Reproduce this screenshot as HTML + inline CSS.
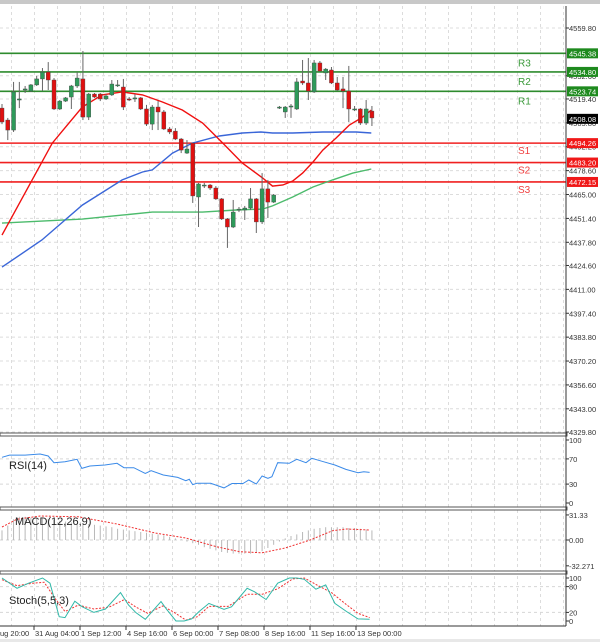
<!DOCTYPE html>
<html><head><meta charset="utf-8"><style>
html,body{margin:0;padding:0;background:#fff;}
svg{display:block;font-family:"Liberation Sans",sans-serif;}
</style></head><body>
<svg id="c" width="600" height="642" viewBox="0 0 600 642"></svg>
<script>
// ---- data ----
const opens  =[4514.2,4507.4,4501.7,4518.8,4524.5,4523.9,4527.4,4530.8,4534.7,4530.2,4513.7,4518.2,4520.5,4526.8,4530.8,4509.1,4522.2,4522.2,4519.4,4521.7,4527.4,4526.2,4519.4,4519.4,4520.0,4513.7,4505.1,4514.8,4512.0,4502.3,4501.1,4496.6,4488.6,4494.3,4463.6,4470.4,4470.4,4468.7,4462.5,4451.1,4446.5,4456.2,4456.2,4457.3,4462.5,4449.4,4468.2,4460.7,4514.2,4512.0,4514.8,4513.7,4529.6,4528.5,4523.4,4539.9,4534.2,4535.9,4528.5,4525.1,4523.9,4513.7,4513.7,4505.7,4512.5];
const closes =[4506.3,4501.7,4523.4,4519.4,4525.1,4527.4,4530.8,4534.7,4530.2,4513.7,4518.2,4520.0,4526.8,4531.3,4509.1,4522.2,4520.5,4519.4,4521.1,4527.9,4527.4,4514.8,4518.8,4520.0,4513.7,4505.1,4514.8,4512.0,4502.3,4500.6,4496.6,4490.3,4490.9,4464.2,4471.0,4470.4,4468.7,4462.5,4451.1,4446.5,4455.0,4456.7,4457.3,4462.5,4449.4,4468.2,4460.7,4464.7,4514.8,4514.8,4515.4,4529.1,4528.5,4523.9,4539.9,4535.3,4536.4,4528.5,4524.5,4523.9,4513.7,4513.7,4505.7,4513.7,4508.6];
const highs  =[4516.5,4508.6,4529.1,4529.1,4526.8,4527.9,4532.5,4537.0,4540.4,4531.3,4518.8,4520.5,4527.4,4534.7,4546.7,4522.8,4522.8,4522.8,4522.2,4530.2,4530.2,4530.8,4520.5,4522.2,4520.5,4516.0,4516.0,4518.2,4513.1,4503.4,4502.8,4497.2,4496.0,4494.3,4471.6,4471.6,4471.0,4469.8,4463.0,4451.6,4461.9,4457.9,4458.5,4468.7,4463.0,4477.2,4473.3,4465.3,4515.4,4515.4,4516.5,4531.3,4541.6,4542.7,4541.6,4541.0,4537.0,4537.6,4531.9,4531.9,4538.2,4515.4,4514.2,4518.8,4515.4];
const lows   =[4505.1,4496.0,4500.6,4514.2,4522.8,4523.4,4526.8,4523.9,4524.5,4513.1,4513.1,4517.7,4513.7,4525.7,4507.4,4507.4,4520.0,4518.2,4518.8,4521.1,4526.2,4513.1,4518.2,4517.7,4513.1,4504.0,4501.7,4501.7,4501.7,4499.4,4496.0,4488.6,4488.1,4460.2,4446.5,4468.7,4467.6,4461.9,4450.5,4434.6,4445.9,4455.0,4450.5,4456.2,4443.1,4448.2,4451.6,4460.2,4513.7,4508.6,4508.6,4513.1,4527.4,4518.8,4522.8,4534.7,4530.2,4527.9,4523.9,4514.2,4506.3,4512.5,4504.6,4504.6,4504.0];
const maFastIdx=[0,8.7,13.9,17.3,20.8,24.3,27.7,31.2,34.7,38.2,41.6,45.1,46.8,48.6,50.3,52,53.8,55.5,57.8,60.1,62.4,63.9];
const maFastVal=[4441.9,4494.3,4514.8,4521.7,4523.4,4521.7,4517.7,4513.1,4505.7,4494.3,4482.9,4474.4,4469.8,4470.4,4472.7,4477.2,4483.5,4490.3,4497.2,4504.6,4509.1,4513.1];
const maMidIdx=[0,6.9,13.9,20.8,24.3,26,29.5,32.9,37.6,41.6,44.8,46.8,50.3,55.5,61.3,63.9];
const maMidVal=[4423.7,4439.1,4459.0,4473.3,4477.8,4479.0,4488.6,4494.3,4498.3,4500.0,4500.6,4500.0,4500.0,4500.6,4500.6,4500.0];
const maSlowIdx=[0,13.9,20.8,26,34.7,40.5,45.1,46.8,50.3,53.8,57.2,60.7,63.9];
const maSlowVal=[4448.7,4451.0,4453.3,4455.0,4455.0,4456.2,4456.7,4458.5,4463.6,4469.3,4473.3,4477.2,4479.5];
const levelNames=["R3","R2","R1","S1","S2","S3"];
const levelVals=[4545.38,4534.80,4523.74,4494.26,4483.20,4472.15];
const priceTicks=["4559.80","4532.60","4519.40","4505.80","4492.20","4478.60","4465.00","4451.40","4437.80","4424.60","4411.00","4397.40","4383.80","4370.20","4356.60","4343.00","4329.80"];
const lastPrice=4508.08;
const rsiIdx=[0,1.3,4,6.6,8,9,10.9,13,13.8,15.2,17.8,19.9,21.1,22.8,24.8,25.8,27.9,30.4,31.8,32.4,33,33.7,36.1,38.4,39.8,41.7,42.7,44,45,46,46.7,47.7,49.7,51,52.6,53.6,55.6,57.6,59.5,61.6,62.6,63.6];
const rsiVal=[72.5,76,76,77.8,74.6,64,65.6,69.3,55,58.7,60.3,63,56,56,47,51.3,44.4,40.7,35.4,37.6,29,31.2,31.2,24,31,31,36.5,30.2,42.9,39.2,41.8,64,63,69.3,64,71,65.6,60.3,53.4,48.1,49.7,48.5];
const macdHist=[12,18,26,29,29,28,27,27,26,25,24,23,22,21,20,20,19,18,17,16,14,13,12,11,10,9,8,7,6,4,2,1,-2,-4,-6,-9,-11,-13,-15,-16,-17,-17,-17,-17,-16,-14,-10,-6,-2,2,5,7,10,12,14,15,16,16,16,16,15,15,14,13,12];
const macdSigIdx=[0,2.6,6.6,13.2,19.9,26.5,31.8,37.1,41.1,45,49,53.3,57.2,59.6,63.6];
const macdSigVal=[16.3,26,30,29,20,8.8,2.5,-8.4,-14.6,-16,-10,0,11.6,13.8,12.5];
const stMainIdx=[0,2.6,4.6,7,8.3,9.9,10.9,12.6,13.9,15.9,17.9,20.5,21.9,23.2,24.8,27.5,28.5,30.1,31.5,32.8,34.1,35.8,38.4,39.7,42.4,43.7,45.7,47.7,49.7,51,52.3,54.3,56,57.6,59.6,61.6,63.6];
const stMainVal=[100,76,88,100,88,10,8,46,33,20,28,66,37,19,4,45,27,0,0,5,22,41,27,33,76,68,50,88,100,100,97,74,84,41,22,5,4];
const stSigIdx=[0,2.6,5.3,7.3,9.3,10.9,13.2,15.9,18.5,21.2,23.2,25.2,27.8,29.8,31.8,33.8,35.8,39.1,42.4,45,47.7,50.3,52.3,55,57,59.6,61.6,63.6];
const stSigVal=[96,82,88,90,50,22,37,28,32,50,32,18,35,20,2,10,34,34,62,62,75,98,100,80,66,38,18,8];
const dateLabels=["ug 20:00","31 Aug 04:00","1 Sep 12:00","4 Sep 16:00","6 Sep 00:00","7 Sep 08:00","8 Sep 16:00","11 Sep 16:00","13 Sep 00:00"];

// ---- axes ----
const AX=566;
const xI=i=>2+i*5.78;
const yP=p=>28+(4559.8-p)*1.7565;
const yR=v=>503-v*0.63;
const yM=v=>540-v*0.8;
const yS=v=>621-v*0.43;
const svg=document.getElementById('c');
const NS="http://www.w3.org/2000/svg";
function mk(t,a,parent){const e=document.createElementNS(NS,t);for(const k in a)e.setAttribute(k,a[k]);(parent||svg).appendChild(e);return e;}
function poly(idx,val,fx,fy,attrs,name){
  const pts=idx.map((i,k)=>fx(i).toFixed(1)+","+fy(val[k]).toFixed(1)).join(" ");
  const e=mk('polyline',Object.assign({points:pts,fill:'none'},attrs));
  
  
}
mk('rect',{x:0,y:0,width:600,height:4,fill:'#c8c8c8'});
for(let x=11.5;x<AX;x+=23){
  const g=mk('line',{x1:x,y1:6,x2:x,y2:626,stroke:'#dcdcdc','stroke-dasharray':'3,3','stroke-width':1});
  
  
}
priceTicks.forEach(t=>{
  const y=yP(parseFloat(t));
  const g=mk('line',{x1:0,y1:y,x2:AX,y2:y,stroke:'#dcdcdc','stroke-dasharray':'3,3'});
  
  
  mk('line',{x1:AX,y1:y,x2:AX+3,y2:y,stroke:'#333'});
  const tx=mk('text',{x:569,y:y+3,'font-size':7.5,fill:'#333'});tx.textContent=t;
  
  
});
[[yR(70)],[yR(30)],[yM(0)],[yS(80)],[yS(20)]].forEach(a=>{
  const g=mk('line',{x1:0,y1:a[0],x2:AX,y2:a[0],stroke:'#d6d6d6','stroke-dasharray':'3,3'});
  
  
});
levelVals.forEach((v,k)=>{
  const y=yP(v);const isR=k<3;const col=isR?'#2e8b2e':'#f02020';
  const l=mk('line',{x1:0,y1:y,x2:AX,y2:y,stroke:col,'stroke-width':1.6});
  
  
  const t=mk('text',{x:518,y:isR?y+13:y+11,'font-size':10,fill:isR?'#3a9a3a':'#f04040'});t.textContent=levelNames[k];
  
  
  mk('rect',{x:567,y:y-5,width:31,height:10,fill:isR?'#1e8a1e':'#f01818'});
  const b=mk('text',{x:569,y:y+3,'font-size':7.5,fill:'#fff'});b.textContent=v.toFixed(2);
  
  
});
poly(maSlowIdx,maSlowVal,xI,yP,{stroke:'#4cbb6c','stroke-width':1.4},'ma-slow-line');
poly(maMidIdx,maMidVal,xI,yP,{stroke:'#3a66d8','stroke-width':1.4},'ma-mid-line');
poly(maFastIdx,maFastVal,xI,yP,{stroke:'#f01010','stroke-width':1.4},'ma-fast-line');
opens.forEach((o,i)=>{
  const c=closes[i],x=xI(i);const up=c>=o;
  const w=mk('line',{x1:x,y1:yP(highs[i]),x2:x,y2:yP(lows[i]),stroke:'#666','stroke-width':1});
  
  
  const top=yP(Math.max(o,c)),bot=yP(Math.min(o,c));
  const r=mk('rect',{x:x-2,y:top,width:4,height:Math.max(1,bot-top),fill:up?'#2e9a5a':'#e01010',stroke:'#444','stroke-width':0.4});
  
  
});
{const y=yP(lastPrice);mk('rect',{x:567,y:y-5,width:31,height:10,fill:'#000'});
const t=mk('text',{x:569,y:y+3,'font-size':7.5,fill:'#fff'});t.textContent=lastPrice.toFixed(2);

}
[433,507,571].forEach(y=>{
  const r=mk('rect',{x:0,y:y,width:AX+1,height:3,fill:'#fff',stroke:'#555','stroke-width':1});
  
  
});
poly(rsiIdx,rsiVal,xI,yR,{stroke:'#3a8ae8','stroke-width':1},'rsi-line');
macdHist.forEach((v,i)=>{
  const b=mk('line',{x1:xI(i),y1:yM(0),x2:xI(i),y2:yM(v),stroke:'#b8b8b8','stroke-width':1});
  
  
});
poly(macdSigIdx,macdSigVal,xI,yM,{stroke:'#f03030','stroke-width':1,'stroke-dasharray':'2,1.5'},'macd-signal-line');
poly(stSigIdx,stSigVal,xI,yS,{stroke:'#f03030','stroke-width':1,'stroke-dasharray':'2,1.5'},'stoch-signal-line');
poly(stMainIdx,stMainVal,xI,yS,{stroke:'#30b8a8','stroke-width':1},'stoch-main-line');
[["RSI(14)",9,469,'rsi-title'],["MACD(12,26,9)",15,525,'macd-title'],["Stoch(5,5,3)",9,604,'stoch-title']].forEach(a=>{
  const t=mk('text',{x:a[1],y:a[2],'font-size':11,fill:'#222'});t.textContent=a[0];
  
  
});
[["100",yR(100)],["70",yR(70)],["30",yR(30)],["0",yR(0)],["31.33",yM(31.33)],["0.00",yM(0)],["-32.271",yM(-32.271)],["100",yS(100)],["80",yS(80)],["20",yS(20)],["0",yS(0)]].forEach(a=>{
  mk('line',{x1:AX,y1:a[1],x2:AX+3,y2:a[1],stroke:'#333'});
  const t=mk('text',{x:569,y:a[1]+3,'font-size':7.5,fill:'#333'});t.textContent=a[0];
  
  
});
mk('line',{x1:AX,y1:6,x2:AX,y2:626,stroke:'#333','stroke-width':1});
mk('line',{x1:0,y1:626,x2:AX,y2:626,stroke:'#333','stroke-width':1});
dateLabels.forEach((d,k)=>{
  const x=k===0?-12:34+(k-1)*46;
  mk('line',{x1:x,y1:626,x2:x,y2:630,stroke:'#333'});
  const t=mk('text',{x:k===0?0:x+1,y:636,'font-size':7.5,fill:'#333'});t.textContent=d;
  
  
});
mk('rect',{x:0,y:639,width:600,height:3,fill:'#e8e8e8'});
</script>
</body></html>
